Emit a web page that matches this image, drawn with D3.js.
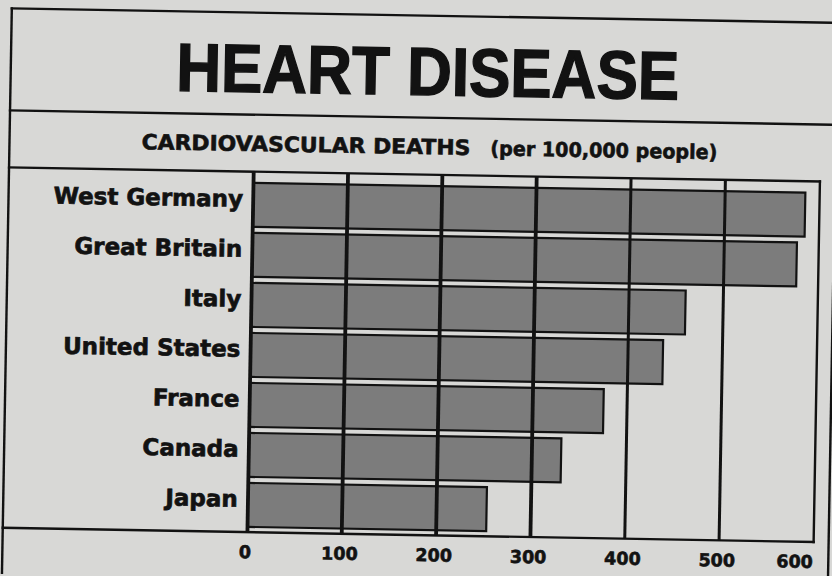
<!DOCTYPE html>
<html>
<head>
<meta charset="utf-8">
<script src="https://cdn.jsdelivr.net/npm/d3@7"></script>
<style>
  html, body { margin: 0; padding: 0; background: #d8d8d6; }
  svg { display: block; }
</style>
</head>
<body>
<svg id="chart" width="832" height="576"></svg>
<script>
// ---- data ----
const categories = ["West Germany", "Great Britain", "Italy", "United States", "France", "Canada", "Japan"];
const deaths = [585, 577, 460, 437, 375, 331, 253];
const tickValues = [0, 100, 200, 300, 400, 500, 600];
const titleText = "HEART DISEASE";
const subtitleMain = "CARDIOVASCULAR DEATHS";
const subtitleUnit = "(per 100,000 people)";

// ---- layout ----
const W = 832, H = 576;
const ink = "#121212";
const paper = "#d8d8d6";
const barFill = "#7c7c7c";

const svg = d3.select("#chart");
svg.append("rect").attr("width", W).attr("height", H).attr("fill", paper);

// scanned page is slightly rotated
const g = svg.append("g").attr("transform", "rotate(1,416,288)");

const frame = { left: 7, top: 15.5, right: 833, bottom: 580 };
const titleSep = 117.5;
const plot = { top: 174.5, bottom: 535, right: 818 };

const x = d3.scaleLinear().domain([0, 600]).range([251.7, 817.8]);
const y = d3.scaleBand().domain(categories).range([185.8, 529.8]).paddingInner(0.12);

// frame lines
const lines = [
  [frame.left, frame.top, frame.right, frame.top],
  [frame.left, frame.top, frame.left, frame.bottom],
  [frame.right, frame.top, frame.right, frame.bottom],
  [frame.left, titleSep, frame.right, titleSep],
  [frame.left, plot.top, plot.right, plot.top],
  [frame.left, plot.bottom, plot.right, plot.bottom],
  [plot.right, plot.top, plot.right, plot.bottom]
];
g.selectAll("line.frame").data(lines).join("line")
  .attr("class", "frame")
  .attr("x1", d => d[0]).attr("y1", d => d[1])
  .attr("x2", d => d[2]).attr("y2", d => d[3])
  .attr("stroke", ink).attr("stroke-width", 2.4).attr("stroke-linecap", "square");

// title
g.append("text")
  .attr("x", 424).attr("y", 95)
  .attr("text-anchor", "middle")
  .attr("font-family", "Liberation Sans, Arial, sans-serif")
  .attr("font-weight", "bold")
  .attr("font-size", 68)
  .attr("textLength", 503).attr("lengthAdjust", "spacingAndGlyphs")
  .attr("fill", ink).attr("stroke", ink).attr("stroke-width", 1.4)
  .text(titleText);

// subtitle
g.append("text")
  .attr("x", 139).attr("y", 154)
  .attr("font-family", "DejaVu Sans, sans-serif").attr("font-weight", "bold")
  .attr("font-size", 21)
  .attr("textLength", 329).attr("lengthAdjust", "spacingAndGlyphs")
  .attr("fill", ink).attr("stroke", ink).attr("stroke-width", 0.6)
  .text(subtitleMain);
g.append("text")
  .attr("x", 488).attr("y", 154)
  .attr("font-family", "DejaVu Sans, sans-serif").attr("font-weight", "bold")
  .attr("font-size", 20)
  .attr("textLength", 227).attr("lengthAdjust", "spacingAndGlyphs")
  .attr("fill", ink).attr("stroke", ink).attr("stroke-width", 0.6)
  .text(subtitleUnit);

// bars
g.selectAll("rect.bar").data(categories).join("rect")
  .attr("class", "bar")
  .attr("x", x(0))
  .attr("y", d => y(d))
  .attr("width", (d, i) => x(deaths[i]) - x(0))
  .attr("height", y.bandwidth())
  .attr("fill", barFill)
  .attr("stroke", ink).attr("stroke-width", 2.2);

// gridlines (drawn over the bars)
g.selectAll("line.grid").data(tickValues.filter(v => v < 600)).join("line")
  .attr("class", "grid")
  .attr("x1", d => x(d)).attr("x2", d => x(d))
  .attr("y1", plot.top).attr("y2", plot.bottom)
  .attr("stroke", ink)
  .attr("stroke-width", d => d >= 400 ? 3 : 3.8);

// category labels
g.selectAll("text.cat").data(categories).join("text")
  .attr("class", "cat")
  .attr("x", 241.5)
  .attr("y", d => y(d) + y.bandwidth() / 2 + 2)
  .attr("text-anchor", "end")
  .attr("font-family", "DejaVu Sans, sans-serif").attr("font-weight", "bold")
  .attr("font-size", 23)
  .attr("fill", ink).attr("stroke", ink).attr("stroke-width", 0.7)
  .text(d => d);

// x axis tick labels
const axis = d3.axisBottom(x).tickValues(tickValues).tickSize(0).tickPadding(0).tickFormat(d3.format("d"));
const axisG = g.append("g").attr("transform", `translate(0,${plot.bottom})`).call(axis);
axisG.select(".domain").remove();
axisG.selectAll(".tick text")
  .attr("y", 26)
  .attr("dy", 0)
  .attr("dx", d => d === 600 ? -19 : -2.5)
  .attr("font-family", "DejaVu Sans, sans-serif").attr("font-weight", "bold")
  .attr("font-size", 17.5)
  .attr("fill", ink).attr("stroke", ink).attr("stroke-width", 0.6);
</script>
</body>
</html>
